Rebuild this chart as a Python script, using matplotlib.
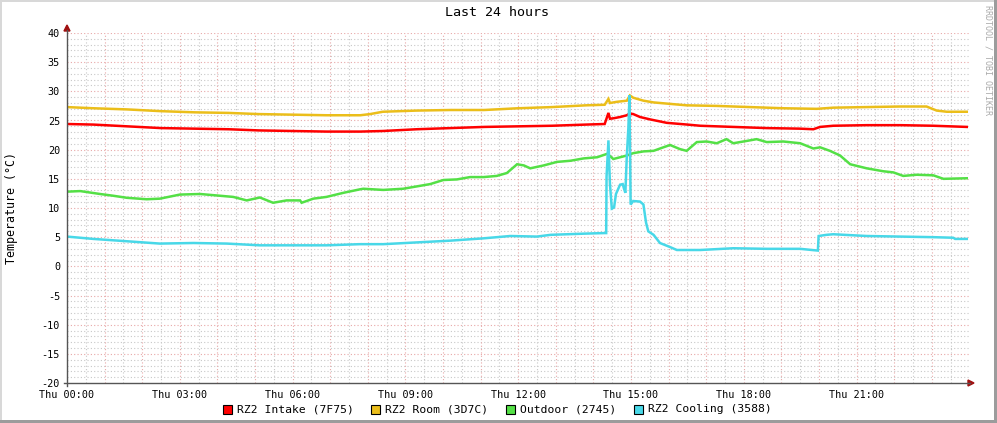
import matplotlib
matplotlib.use("Agg")
import matplotlib.pyplot as plt
from matplotlib.patches import Rectangle, Polygon
from matplotlib.lines import Line2D

# ---------------- data (hours since Thu 00:00, °C) ----------------
hours_intake = [0, 0.7, 1.6, 2.5, 3.4, 4.3, 5.1, 6.0, 6.9, 7.8, 8.4, 9.3, 10.2, 11.1, 12.0,
                12.9, 13.8, 14.3, 14.4, 14.44, 14.55, 14.71, 14.89, 14.96, 15.06, 15.24, 15.5,
                15.95, 16.5, 16.84, 17.72, 18.61, 19.5, 19.85, 20.03, 20.38, 21.27, 22.16, 23.04, 23.93]
intake = [24.4, 24.3, 24.0, 23.7, 23.6, 23.5, 23.3, 23.2, 23.1, 23.1, 23.2, 23.5, 23.7, 23.9, 24.0,
          24.1, 24.3, 24.4, 26.3, 25.3, 25.4, 25.6, 25.9, 26.2, 26.1, 25.6, 25.2,
          24.6, 24.3, 24.1, 23.9, 23.7, 23.6, 23.5, 23.9, 24.1, 24.2, 24.2, 24.1, 23.9]

hours_room = [0, 0.7, 1.6, 2.5, 3.4, 4.3, 5.1, 6.0, 6.9, 7.8, 8.06, 8.4, 9.3, 10.2, 11.1, 12.0,
              12.9, 13.8, 14.3, 14.4, 14.44, 14.62, 14.89, 14.97, 15.06, 15.33, 15.6, 15.95, 16.48,
              17.28, 18.17, 19.05, 19.94, 20.38, 21.27, 22.16, 22.86, 23.13, 23.4, 23.93]
room = [27.3, 27.1, 26.9, 26.6, 26.4, 26.3, 26.1, 26.0, 25.9, 25.9, 26.1, 26.5, 26.7, 26.8, 26.8, 27.1,
        27.3, 27.6, 27.7, 28.7, 28.0, 28.2, 28.4, 29.3, 28.9, 28.4, 28.1, 27.9, 27.6,
        27.5, 27.3, 27.1, 27.0, 27.2, 27.3, 27.4, 27.4, 26.7, 26.5, 26.5]

hours_outdoor = [0, 0.35, 0.88, 1.23, 1.59, 2.12, 2.47, 3.0, 3.54, 4.07, 4.42, 4.78, 5.13, 5.48, 5.84,
                 6.2, 6.24, 6.55, 6.9, 7.35, 7.79, 7.88, 8.41, 8.94, 9.3, 9.66, 10.01, 10.37, 10.72,
                 11.08, 11.43, 11.7, 11.97, 12.15, 12.32, 12.68, 13.03, 13.39, 13.74, 14.1, 14.37,
                 14.53, 14.71, 14.89, 15.06, 15.33, 15.6, 15.86, 16.04, 16.3, 16.48, 16.75, 17.01,
                 17.28, 17.54, 17.72, 18.08, 18.34, 18.61, 19.05, 19.5, 19.85, 20.03, 20.29, 20.56,
                 20.83, 21.27, 21.71, 21.98, 22.24, 22.6, 23.04, 23.31, 23.93]
outdoor = [12.8, 12.9, 12.4, 12.1, 11.75, 11.5, 11.6, 12.3, 12.4, 12.1, 11.9, 11.3, 11.8, 10.9, 11.3,
           11.3, 10.9, 11.6, 11.9, 12.6, 13.2, 13.3, 13.1, 13.3, 13.7, 14.1, 14.8, 14.9, 15.3,
           15.3, 15.5, 16.0, 17.5, 17.3, 16.8, 17.3, 17.9, 18.1, 18.5, 18.7, 19.3,
           18.4, 18.7, 19.0, 19.4, 19.7, 19.8, 20.4, 20.8, 20.1, 19.8, 21.3, 21.4,
           21.1, 21.8, 21.1, 21.5, 21.8, 21.3, 21.4, 21.1, 20.2, 20.4, 19.8, 19.0,
           17.5, 16.8, 16.3, 16.1, 15.5, 15.7, 15.6, 15.0, 15.1]

hours_cooling = [0, 0.7, 1.59, 2.47, 3.36, 4.25, 5.13, 6.02, 6.9, 7.79, 8.41, 9.3, 10.19, 11.08,
                 11.79, 12.5, 12.86, 13.74, 14.28, 14.34, 14.35, 14.40, 14.44, 14.49, 14.55, 14.6, 14.71,
                 14.78, 14.81, 14.85, 14.89, 14.93, 14.96, 14.99, 15.06, 15.24, 15.33, 15.4, 15.46,
                 15.6, 15.77, 16.04, 16.22, 16.84, 17.72, 18.61, 19.5, 19.97, 19.99, 20.2, 20.38,
                 21.27, 22.16, 23.04, 23.57, 23.62, 23.93]
cooling = [5.1, 4.7, 4.3, 3.9, 4.0, 3.9, 3.6, 3.6, 3.6, 3.8, 3.8, 4.1, 4.4, 4.8,
           5.2, 5.1, 5.4, 5.6, 5.7, 5.7, 15.4, 21.6, 14.1, 9.9, 10.1, 12.4, 14.0,
           14.1, 13.4, 12.6, 19.1, 23.7, 29.3, 10.6, 11.2, 11.1, 10.6, 7.5, 6.0,
           5.4, 4.0, 3.3, 2.8, 2.8, 3.1, 3.0, 3.0, 2.7, 5.2, 5.4, 5.5,
           5.2, 5.1, 5.0, 4.9, 4.7, 4.7]

series_labels = ["RZ2 Intake (7F75)", "RZ2 Room (3D7C)", "Outdoor (2745)", "RZ2 Cooling (3588)"]
series_colors = ["#FF0000", "#EBBE1A", "#54E046", "#48D8E8"]

tick_hours = [0, 3, 6, 9, 12, 15, 18, 21]
tick_labels = ["Thu 00:00", "Thu 03:00", "Thu 06:00", "Thu 09:00",
               "Thu 12:00", "Thu 15:00", "Thu 18:00", "Thu 21:00"]
y_ticks = list(range(-20, 41, 5))

# ---------------- figure ----------------
W, H = 997, 423
fig = plt.figure(figsize=(W / 100, H / 100), dpi=100)
fig.patch.set_facecolor("white")
MONO = "DejaVu Sans Mono"

x0, x1 = 67, 969.4
y_top, y_bot = 33, 383
ax = fig.add_axes([x0 / W, 1 - y_bot / H, (x1 - x0) / W, (y_bot - y_top) / H])
ax.set_facecolor("white")
ax.set_xlim(0, 24)
ax.set_ylim(-20, 40)

# grid
for hh in [i * 0.5 for i in range(1, 48)]:
    if hh == int(hh):
        ax.axvline(hh, color="#E8A8A8", lw=0.8, ls=(0, (1, 2)), zorder=1)
    else:
        ax.axvline(hh, color="#C8C8C8", lw=0.8, ls=(0, (1, 2)), zorder=0.9)
for v in range(-19, 41):
    if v % 5 == 0:
        ax.axhline(v, color="#E8A8A8", lw=0.8, ls=(0, (1, 2)), zorder=1)
    else:
        ax.axhline(v, color="#C8C8C8", lw=0.8, ls=(0, (1, 2)), zorder=0.9)

data = [(hours_intake, intake), (hours_room, room), (hours_outdoor, outdoor), (hours_cooling, cooling)]
for (hx, vy), c in zip(data, series_colors):
    ax.plot(hx, vy, color=c, lw=1.8, zorder=3, solid_joinstyle="miter")

for s in ax.spines.values():
    s.set_visible(False)

ax.set_xticks(tick_hours)
ax.set_xticklabels(tick_labels, fontfamily=MONO, fontsize=7.3)
ax.set_yticks(y_ticks)
ax.set_yticklabels([str(v) for v in y_ticks], fontfamily=MONO, fontsize=7.3)
ax.tick_params(axis="both", length=0, pad=5, colors="black")

# axis lines and arrows (figure pixel coords)
def fx(px):
    return px / W

def fy(py):
    return 1 - py / H

axis_col = "#555555"
fig.add_artist(Line2D([fx(67), fx(67)], [fy(386), fy(30)], color=axis_col, lw=1.0))
fig.add_artist(Line2D([fx(64), fx(970)], [fy(383), fy(383)], color=axis_col, lw=1.0))
arrow_col = "#A01010"
fig.add_artist(Polygon([[fx(64), fy(31)], [fx(70), fy(31)], [fx(67), fy(25)]],
                       closed=True, color=arrow_col, transform=fig.transFigure))
fig.add_artist(Polygon([[fx(968), fy(380)], [fx(968), fy(386)], [fx(974), fy(383)]],
                       closed=True, color=arrow_col, transform=fig.transFigure))

# title, y label, side text
fig.text(fx(497), fy(13), "Last 24 hours", ha="center", va="center", fontfamily=MONO, fontsize=9.6)
fig.text(fx(11), fy(208), "Temperature (°C)", ha="center", va="center", rotation=90,
         fontfamily=MONO, fontsize=8.4)
fig.text(fx(988), fy(5), "RRDTOOL / TOBI OETIKER", ha="center", va="top", rotation=270,
         fontfamily=MONO, fontsize=6.0, color="#AAAAAA")

# legend
legend_box_x = [227, 375, 510, 638]
for bx, lab, c in zip(legend_box_x, series_labels, series_colors):
    fig.add_artist(Rectangle((fx(bx - 4.5), fy(409 + 4.5)), 9 / W, 9 / H, facecolor=c,
                             edgecolor="black", lw=0.8, transform=fig.transFigure))
    fig.text(fx(bx + 10), fy(409), lab, ha="left", va="center", fontfamily=MONO, fontsize=8.2)

# outer 3D border
fig.add_artist(Rectangle((0, 1 - 2 / H), 1, 2 / H, color="#D8D8D8", transform=fig.transFigure, lw=0))
fig.add_artist(Rectangle((0, 0), 2 / W, 1, color="#D8D8D8", transform=fig.transFigure, lw=0))
fig.add_artist(Rectangle((1 - 3 / W, 0), 3 / W, 1, color="#9C9C9C", transform=fig.transFigure, lw=0))
fig.add_artist(Rectangle((0, 0), 1, 3 / H, color="#9C9C9C", transform=fig.transFigure, lw=0))

fig.savefig("out.png", dpi=100, facecolor="white")
